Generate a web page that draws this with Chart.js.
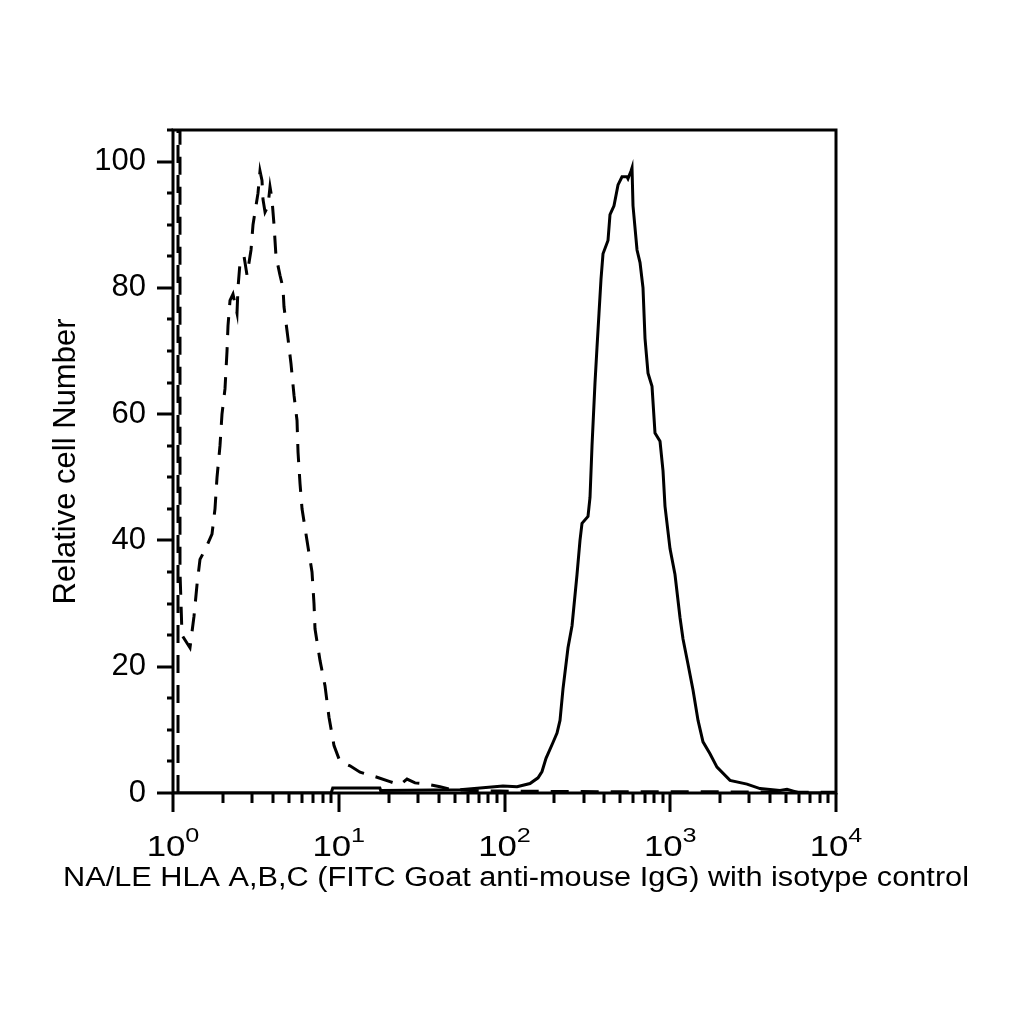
<!DOCTYPE html>
<html>
<head>
<meta charset="utf-8">
<title>HLA A,B,C histogram</title>
<style>
  html, body { margin: 0; padding: 0; background: #fff; }
  #wrap { width: 1024px; height: 1024px; }
</style>
<script src="https://cdn.jsdelivr.net/npm/chart.js@4.4.1/dist/chart.umd.min.js"></script>
</head>
<body>
<div id="wrap"><canvas id="histChart" width="1024" height="1024"></canvas></div>
<script>
// ------------------------------------------
// Data
// ------------------------------------------

// isotype control (dashed)
const isotypeX = [1.072, 1.072, 1.102, 1.102, 1.118, 1.133, 1.266, 1.339, 1.396, 1.455,
  1.560, 1.719, 1.792, 1.843, 1.921, 1.975, 2.059, 2.118, 2.147, 2.208,
  2.301, 2.433, 2.467, 2.537, 2.682, 2.796, 2.956, 3.039, 3.257, 3.349,
  3.443, 3.491, 3.591, 3.743, 3.848, 3.957, 4.068, 4.182, 4.421, 4.609,
  4.674, 4.940, 5.151, 5.370, 5.601, 5.679, 5.839, 6.004, 6.433, 6.897,
  7.091, 7.190, 7.706, 8.260, 8.733, 9.362, 10.17, 11.69, 13.44, 17.01,
  20.38, 23.41, 25.81, 28.84, 34.08, 40.82, 46.91, 61.9, 93.95, 377,
  1512, 6064, 10000];
const isotypeY = [0, 150, 150, 35, 30, 25, 23, 28, 33, 37,
  38.5, 41, 45, 50, 55, 60, 64, 70, 74, 78,
  79, 76, 80, 84, 85, 82, 86, 90, 95, 98.5,
  97, 94, 92, 93, 96, 94, 90, 85, 82, 80,
  77, 72, 68, 63, 59, 54, 49, 45, 40, 35,
  30, 26, 21, 17, 12, 7.5, 5, 4.3, 3.3, 2.5,
  1.8, 1.3, 2.2, 1.6, 1.4, 1.0, 0.6, 0.4, 0.3, 0.2,
  0.2, 0.1, 0.1];

// NA/LE HLA A,B,C stained sample (solid)
const sampleX = [1, 9.0, 9.2, 17.7, 17.9, 53.9, 97.9, 119, 142.5, 159.3,
  168.4, 178, 196.1, 207.4, 216.2, 225.4, 241.6, 255.5, 273.8, 285.4,
  293.5, 319, 328, 337.3, 351.6, 361.5, 371.7, 382.2, 392.9, 421.1,
  433, 457.7, 484, 511.6, 548.3, 556, 579.8, 587.9, 596.1, 630.3,
  657.1, 684.9, 704.2, 734.2, 776.2, 809.1, 867.5, 904.4, 929.8, 996.5,
  1068, 1145, 1194, 1280, 1372, 1471, 1576, 1737, 1914, 2294,
  2904, 3479, 4594, 5063, 5533, 6064, 10000];
const sampleY = [0, 0, 0.8, 0.8, 0.4, 0.5, 1.1, 1.0, 1.5, 2.4,
  3.4, 5.5, 8, 9.5, 11.5, 16.5, 23, 26.5, 34.6, 40,
  42.7, 43.8, 46.8, 55, 65, 70.6, 76, 81.4, 85.4, 87.5,
  91.6, 93, 96.3, 97.6, 97.6, 97.3, 98.5, 99, 93, 86,
  84, 80, 72, 66.5, 64.4, 57, 55.7, 51, 45.4, 38.7,
  34.6, 27.8, 24.4, 20.4, 16.3, 11.5, 8.1, 6.2, 4.1, 2,
  1.4, 0.7, 0.4, 0.6, 0.3, 0, 0];

// axes
const xDecades = [1, 10, 100, 1000, 10000];
const xExponents = ['0', '1', '2', '3', '4'];
const yTicks = [0, 20, 40, 60, 80, 100];
const yMinorStep = 5;

const xTitle = 'NA/LE HLA A,B,C (FITC Goat anti-mouse IgG) with isotype control';
const yTitle = 'Relative cell Number';

const FONT = "'Liberation Sans', Arial, Helvetica, sans-serif";

function toPoints(xs, ys) {
  return xs.map((x, i) => ({ x: x, y: ys[i] }));
}

// text drawn a little wider than the font, like the scanned original
function wideText(ctx, text, x, y, size, sx) {
  ctx.save();
  ctx.font = size + 'px ' + FONT;
  ctx.translate(x, y);
  ctx.scale(sx, 1);
  ctx.fillText(text, 0, 0);
  ctx.restore();
}

// ------------------------------------------
// frame, tick marks, 10^n labels and x title
// ------------------------------------------
const frameAndTicks = {
  id: 'frameAndTicks',
  afterDraw(chart) {
    const { ctx, chartArea: a } = chart;
    const xs = chart.scales.x;
    const ys = chart.scales.y;
    ctx.save();
    ctx.strokeStyle = '#000';
    ctx.fillStyle = '#000';

    // box
    ctx.lineWidth = 3;
    ctx.strokeRect(a.left, a.top, a.right - a.left, a.bottom - a.top);

    // x ticks (major at decades, minor 2..9)
    ctx.beginPath();
    xDecades.forEach((d, i) => {
      const px = Math.round(xs.getPixelForValue(d));
      ctx.moveTo(px, a.bottom);
      ctx.lineTo(px, a.bottom + 19);
      if (i < xDecades.length - 1) {
        for (let m = 2; m <= 9; m++) {
          const mx = Math.round(xs.getPixelForValue(d * m));
          ctx.moveTo(mx, a.bottom);
          ctx.lineTo(mx, a.bottom + 10);
        }
      }
    });
    ctx.stroke();

    // y ticks (major 20, minor 5)
    ctx.beginPath();
    for (let v = 0; v <= ys.max; v += yMinorStep) {
      const py = Math.round(ys.getPixelForValue(v));
      const len = yTicks.includes(v) ? 16 : 6;
      ctx.moveTo(a.left, py);
      ctx.lineTo(a.left - len, py);
    }
    ctx.stroke();

    // decade labels with superscript exponent
    ctx.textBaseline = 'alphabetic';
    ctx.textAlign = 'left';
    const sx = 1.2;
    xDecades.forEach((d, i) => {
      const px = xs.getPixelForValue(d);
      ctx.font = '29px ' + FONT;
      const w1 = ctx.measureText('10').width * sx;
      ctx.font = '21px ' + FONT;
      const w2 = ctx.measureText(xExponents[i]).width * sx;
      const start = px - (w1 + w2) / 2;
      wideText(ctx, '10', start, 856, 29, sx);
      wideText(ctx, xExponents[i], start + w1, 842, 21, sx);
    });

    // x axis title, stretched to the original's width
    ctx.font = '27px ' + FONT;
    const tw = ctx.measureText(xTitle).width;
    const tsx = 906 / tw;
    wideText(ctx, xTitle, 516 - 906 / 2, 886, 27, tsx);
    ctx.restore();
  }
};

Chart.defaults.font.family = FONT;
Chart.defaults.color = '#000';

const chart = new Chart(document.getElementById('histChart'), {
  type: 'line',
  data: {
    datasets: [
      {
        label: 'isotype control',
        data: toPoints(isotypeX, isotypeY),
        borderColor: '#000',
        borderWidth: 3,
        borderDash: [18, 12],
        pointRadius: 0,
        tension: 0,
        fill: false
      },
      {
        label: 'NA/LE HLA A,B,C',
        data: toPoints(sampleX, sampleY),
        borderColor: '#000',
        borderWidth: 3,
        pointRadius: 0,
        tension: 0,
        fill: false
      }
    ]
  },
  options: {
    responsive: false,
    devicePixelRatio: 1,
    animation: false,
    layout: { padding: { left: 40, top: 130, right: 188, bottom: 121 } },
    plugins: {
      legend: { display: false },
      tooltip: { enabled: false }
    },
    scales: {
      x: {
        type: 'logarithmic',
        min: 1,
        max: 10000,
        grid: { display: false, drawTicks: false },
        border: { display: false },
        ticks: { display: false },
        afterFit: scale => { scale.height = 110; }
      },
      y: {
        type: 'linear',
        min: 0,
        max: 105,
        grid: { display: false, drawTicks: false },
        border: { display: false },
        afterBuildTicks: scale => { scale.ticks = yTicks.map(v => ({ value: v })); },
        ticks: { font: { size: 31 }, padding: 27 },
        title: {
          display: true,
          text: yTitle,
          font: { size: 31 },
          padding: { top: 8, bottom: 0 }
        },
        afterFit: scale => { scale.width = 133; }
      }
    }
  },
  plugins: [frameAndTicks]
});
</script>
</body>
</html>
